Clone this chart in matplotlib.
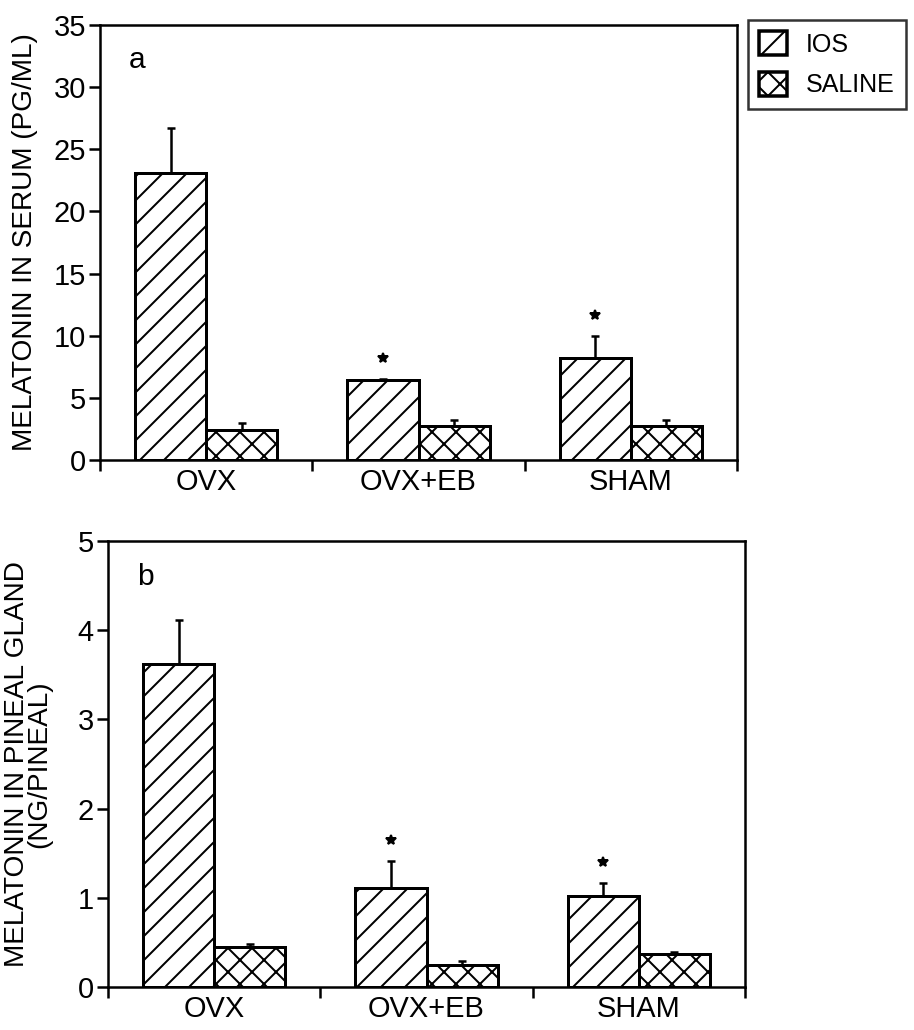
import matplotlib
matplotlib.use('Agg')
import matplotlib.pyplot as plt
import matplotlib.patches as mpatches
import matplotlib.transforms as mtransforms
import numpy as np

# data
groups = ['OVX', 'OVX+EB', 'SHAM']
series = ['IOS', 'SALINE']

serum_ios = [23.1, 6.4, 8.2]
serum_ios_err = [3.6, 0.1, 1.8]
serum_saline = [2.4, 2.7, 2.7]
serum_saline_err = [0.6, 0.5, 0.5]
serum_star = [False, True, True]

pineal_ios = [3.62, 1.11, 1.02]
pineal_ios_err = [0.49, 0.30, 0.15]
pineal_saline = [0.45, 0.25, 0.37]
pineal_saline_err = [0.03, 0.04, 0.02]
pineal_star = [False, True, True]

DPI = 144


def pt(px):
    # pixel size -> points at the output dpi
    return px * 72.0 / DPI


plt.rcParams['font.family'] = ['Liberation Sans', 'DejaVu Sans']
plt.rcParams['hatch.linewidth'] = pt(2)
plt.rcParams['hatch.color'] = 'black'

fig = plt.figure(figsize=(914 / DPI, 1030 / DPI), dpi=DPI)
ax1 = fig.add_axes([100 / 914, 1 - 460 / 1030, 637 / 914, 435 / 1030])
ax2 = fig.add_axes([108 / 914, 1 - 987 / 1030, 637 / 914, 446 / 1030])

width = 0.335
x = np.arange(len(groups))


def panel(ax, ios, ios_err, sal, sal_err, stars, ymax, ystep, letter, ylabel, lab_x):
    ax.bar(x - width / 2, ios, width, color='white', edgecolor='black',
           linewidth=pt(3), hatch='//')
    ax.bar(x + width / 2, sal, width, color='white', edgecolor='black',
           linewidth=pt(3), hatch='xx')
    ax.errorbar(x - width / 2, ios, yerr=[np.zeros(3), ios_err], fmt='none',
                ecolor='black', elinewidth=pt(2.5), capsize=pt(4), capthick=pt(2.5))
    ax.errorbar(x + width / 2, sal, yerr=[np.zeros(3), sal_err], fmt='none',
                ecolor='black', elinewidth=pt(2.5), capsize=pt(4), capthick=pt(2.5))
    star_tr = mtransforms.offset_copy(ax.transData, fig=fig, y=pt(21), units='points')
    for i in range(len(groups)):
        if stars[i]:
            ax.plot(x[i] - width / 2, ios[i] + ios_err[i], marker='*', color='black',
                    markersize=pt(11), transform=star_tr, clip_on=False)
    ax.set_xlim(-0.5, 2.5)
    ax.set_ylim(0, ymax)
    ax.set_yticks(np.arange(0, ymax + 0.001, ystep))
    ax.set_xticks([-0.5, 0.5, 1.5, 2.5])
    ax.set_xticklabels([])
    ax.set_xticks(x, minor=True)
    ax.set_xticklabels(groups, minor=True)
    ax.tick_params(axis='x', which='major', direction='out', length=pt(11), width=pt(2.5))
    ax.tick_params(axis='x', which='minor', length=0, labelsize=pt(29), pad=pt(8))
    ax.tick_params(axis='y', direction='out', length=pt(11), width=pt(2.5),
                   labelsize=pt(29), pad=pt(3))
    for s in ax.spines.values():
        s.set_linewidth(pt(2.5))
    ax.text(0.045, 0.92, letter, transform=ax.transAxes, fontsize=pt(30),
            ha='left', va='center')
    ax.set_ylabel(ylabel, fontsize=pt(28), linespacing=0.82)
    ax.yaxis.set_label_coords(lab_x, 0.5)


panel(ax1, serum_ios, serum_ios_err, serum_saline, serum_saline_err, serum_star,
      35, 5, 'a', 'MELATONIN IN SERUM (PG/ML)', (38 - 100) / 637)
panel(ax2, pineal_ios, pineal_ios_err, pineal_saline, pineal_saline_err, pineal_star,
      5, 1, 'b', 'MELATONIN IN PINEAL GLAND\n(NG/PINEAL)', (52 - 108) / 637)

handles = [mpatches.Patch(facecolor='white', edgecolor='black', linewidth=pt(3.5), hatch='//', label=series[0]),
           mpatches.Patch(facecolor='white', edgecolor='black', linewidth=pt(3.5), hatch='xx', label=series[1])]
leg = fig.legend(handles=handles, loc='upper left', bbox_to_anchor=(748 / 914, 1 - 20 / 1030),
                 fontsize=pt(25), frameon=True, fancybox=False, edgecolor='black',
                 handlelength=1.1, handleheight=1.1, handletextpad=0.75,
                 borderaxespad=0, borderpad=0.45, labelspacing=0.6)
leg.get_frame().set_linewidth(pt(2.5))

fig.savefig('out.png', dpi=DPI)
